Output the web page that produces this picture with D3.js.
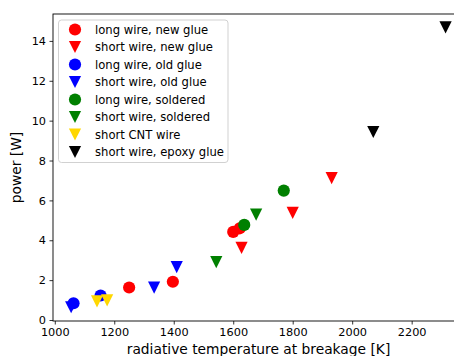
<!DOCTYPE html>
<html><head><meta charset="utf-8">
<script src="https://cdn.jsdelivr.net/npm/d3@7"></script>
<style>
body{margin:0;background:#fff;overflow:hidden}
svg{display:block}
text{font-family:"DejaVu Sans",sans-serif;fill:#000}
</style>
</head><body>
<svg id="c" width="454" height="356"></svg>
<script>
// ---- data ----
const seriesNames = ["long wire, new glue","short wire, new glue","long wire, old glue","short wire, old glue",
  "long wire, soldered","short wire, soldered","short CNT wire","short wire, epoxy glue"];
const seriesColors = ["#ff0000","#ff0000","#0000ff","#0000ff","#008000","#008000","#ffd700","#000000"];
const seriesShapes = ["circle","tri","circle","tri","circle","tri","tri","tri"];

const longNewGlueX = [1250, 1397, 1600, 1622];
const longNewGlueY = [1.63, 1.92, 4.42, 4.60];
const shortNewGlueX = [1628, 1800, 1931];
const shortNewGlueY = [3.62, 5.37, 7.12];
const longOldGlueX = [1063, 1154];
const longOldGlueY = [0.84, 1.23];
const shortOldGlueX = [1055, 1334, 1410];
const shortOldGlueY = [0.64, 1.62, 2.65];
const longSolderedX = [1637, 1770];
const longSolderedY = [4.77, 6.49];
const shortSolderedX = [1543, 1677];
const shortSolderedY = [2.90, 5.29];
const shortCNTX = [1142, 1176];
const shortCNTY = [0.93, 0.98];
const shortEpoxyX = [2071, 2314];
const shortEpoxyY = [9.43, 14.68];

const seriesX = [longNewGlueX, shortNewGlueX, longOldGlueX, shortOldGlueX, longSolderedX, shortSolderedX, shortCNTX, shortEpoxyX];
const seriesY = [longNewGlueY, shortNewGlueY, longOldGlueY, shortOldGlueY, longSolderedY, shortSolderedY, shortCNTY, shortEpoxyY];

const xTicks = [1000, 1200, 1400, 1600, 1800, 2000, 2200];
const yTicks = [0, 2, 4, 6, 8, 10, 12, 14];
const xLabel = "radiative temperature at breakage [K]";
const yLabel = "power [W]";

// ---- layout ----
const L = 53, R = 464, T = 14, B = 321;
const svg = d3.select("#c");
const x = d3.scaleLinear().domain([994, 2376]).range([L, R]);
const y = d3.scaleLinear().domain([-0.05, 15.35]).range([B, T]);

const triDown = {
  draw(ctx, size) {
    const h = Math.sqrt(size) / 2;
    ctx.moveTo(0, h); ctx.lineTo(-h, -h); ctx.lineTo(h, -h); ctx.closePath();
  }
};
const MS = 12.2;
const circleGen = d3.symbol().type(d3.symbolCircle).size(Math.PI * (MS/2) * (MS/2));
const triGen = d3.symbol().type(triDown).size(MS * MS);

// axes
const fs = 11.3, lfs = 11.6;
const gx = svg.append("g").attr("transform", `translate(0,${B})`)
  .call(d3.axisBottom(x).tickValues(xTicks).tickFormat(d3.format("d")).tickSize(3.5).tickPadding(3.5));
const gy = svg.append("g").attr("transform", `translate(${L},0)`)
  .call(d3.axisLeft(y).tickValues(yTicks).tickFormat(d3.format("d")).tickSize(3.5).tickPadding(3.5));
[gx, gy].forEach(g => {
  g.select(".domain").remove();
  g.selectAll(".tick line").attr("stroke", "#000").attr("stroke-width", 0.8);
  g.selectAll(".tick text").attr("font-size", fs).attr("font-family", "DejaVu Sans").attr("fill", "#000");
});

// data
const plot = svg.append("g");
seriesX.forEach((xs, i) => {
  const pts = xs.map((v, j) => [v, seriesY[i][j]]);
  plot.selectAll(null).data(pts).enter().append("path")
    .attr("d", seriesShapes[i] === "circle" ? circleGen() : triGen())
    .attr("transform", d => `translate(${x(d[0])},${y(d[1])})`)
    .attr("fill", seriesColors[i]);
});

// spines
svg.append("rect").attr("x", L).attr("y", T).attr("width", R - L).attr("height", B - T)
  .attr("fill", "none").attr("stroke", "#000").attr("stroke-width", 0.9);

// labels
svg.append("text").attr("x", (L + R) / 2).attr("y", 353.5).attr("text-anchor", "middle")
  .attr("font-size", 13.8).text(xLabel);
svg.append("text").attr("transform", `translate(21,${(T + B) / 2}) rotate(-90)`)
  .attr("text-anchor", "middle").attr("font-size", 13.8).text(yLabel);

// legend
const lg = svg.append("g");
lg.append("rect").attr("x", 58.5).attr("y", 20).attr("width", 169.5).attr("height", 142.5)
  .attr("rx", 3).attr("fill", "#fff").attr("fill-opacity", 0.8)
  .attr("stroke", "#cccccc").attr("stroke-width", 0.9);
seriesNames.forEach((name, i) => {
  const cy = 29.5 + i * 17.5;
  lg.append("path").attr("d", seriesShapes[i] === "circle" ? circleGen() : triGen())
    .attr("transform", `translate(75,${cy})`).attr("fill", seriesColors[i]);
  lg.append("text").attr("x", 95).attr("y", cy).attr("dy", "0.36em")
    .attr("font-size", lfs).text(name);
});
</script>
</body></html>
